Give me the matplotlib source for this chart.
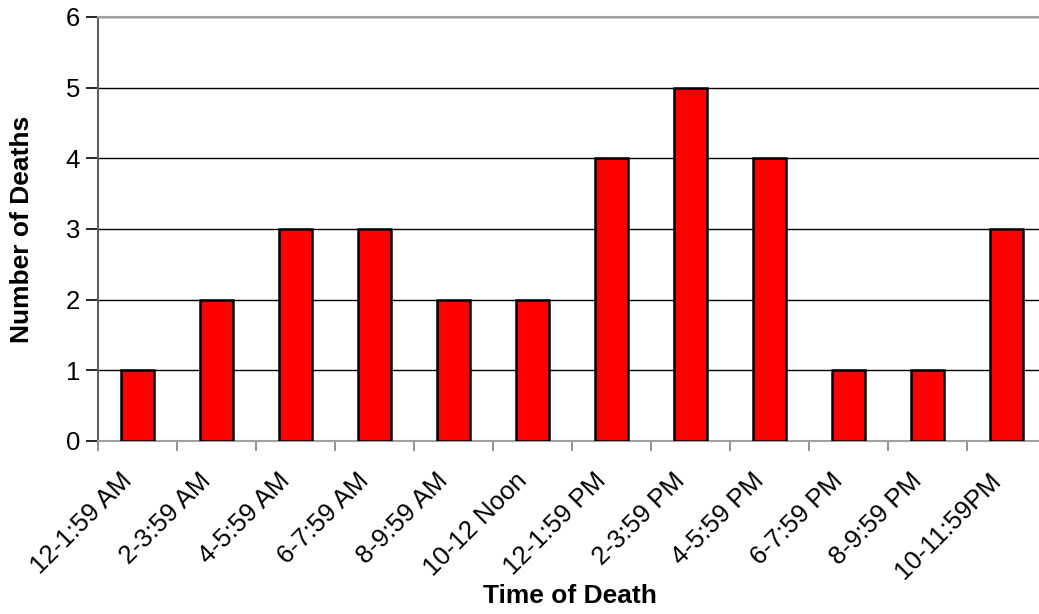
import matplotlib
matplotlib.use("Agg")
import matplotlib.pyplot as plt
import matplotlib.transforms as mtransforms
import numpy as np

categories = ["12-1:59 AM", "2-3:59 AM", "4-5:59 AM", "6-7:59 AM", "8-9:59 AM",
              "10-12 Noon", "12-1:59 PM", "2-3:59 PM", "4-5:59 PM", "6-7:59 PM",
              "8-9:59 PM", "10-11:59PM"]
deaths = [1, 2, 3, 3, 2, 2, 4, 5, 4, 1, 1, 3]
y_ticks = [0, 1, 2, 3, 4, 5, 6]

plt.rcParams["font.family"] = ["Liberation Sans", "DejaVu Sans"]

W, H = 1039, 614
fig = plt.figure(figsize=(W / 100, H / 100), dpi=100)
left, right, top, bottom = 98, 1046, 17, 441
ax = fig.add_axes([left / W, 1 - bottom / H, (right - left) / W, (bottom - top) / H])

x = np.arange(len(categories))
ax.bar(x, deaths, width=0.43, color="#ff0000", edgecolor="black", linewidth=1.8, zorder=3)

ax.set_xlim(-0.5, len(categories) - 0.5)
ax.set_ylim(0, 6)
ax.set_yticks(y_ticks)
ax.yaxis.grid(True, color="black", linewidth=1.0, zorder=0)

ax.set_xticks(np.arange(len(categories) + 1) - 0.5, minor=False)
ax.set_xticklabels([])
ax.set_xticks(x, minor=True)
ax.set_xticklabels(categories, minor=True, rotation=45, ha="right",
                   rotation_mode="anchor", fontsize=18.5)
ax.tick_params(axis="x", which="minor", length=0, pad=16)
ax.tick_params(axis="x", which="major", length=7, width=1.2, color="#808080")
ax.tick_params(axis="y", length=9, width=1.2, color="black", labelsize=18.5, pad=4)

# nudge the slanted category labels a little to the left and down
shift = mtransforms.ScaledTranslation(-18 / 100, -5 / 100, fig.dpi_scale_trans)
for lbl in ax.xaxis.get_minorticklabels():
    lbl.set_transform(lbl.get_transform() + shift)

for s in ["top", "right", "bottom"]:
    ax.spines[s].set_color("#a0a0a0")
    ax.spines[s].set_linewidth(1.5)
ax.spines["left"].set_color("#606060")
ax.spines["left"].set_linewidth(1.5)

ax.set_xlabel("Time of Death", fontsize=19, fontweight="bold", va="center")
ax.xaxis.set_label_coords((570 - left) / (right - left), -(596 - bottom) / (bottom - top))
ax.set_ylabel("Number of Deaths", fontsize=19, fontweight="bold", va="center")
ax.yaxis.set_label_coords(-(left - 22) / (right - left), 0.5)

fig.savefig("out.png", dpi=100)
